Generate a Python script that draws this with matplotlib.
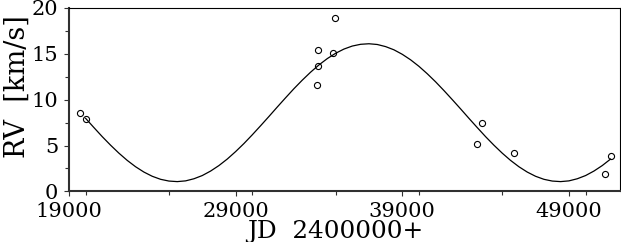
import matplotlib.pyplot as plt
from matplotlib.ticker import MultipleLocator

# observed radial velocities
jd_obs = [19660, 20040, 33900, 33935, 33955, 34815, 34935, 43485, 43785, 45690, 51150, 51495]
rv_obs = [8.59, 7.87, 11.65, 13.69, 15.46, 15.07, 18.89, 5.18, 7.47, 4.17, 1.87, 3.87]

# fitted orbit curve, every 500 days
jd_fit = list(range(20000, 52000, 500))
rv_fit = [7.97, 6.96, 5.97, 5.04, 4.17, 3.38, 2.69, 2.11, 1.65, 1.32,
          1.13, 1.07, 1.15, 1.38, 1.73, 2.22, 2.82, 3.53, 4.34, 5.22,
          6.17, 7.16, 8.17, 9.20, 10.21, 11.20, 12.13, 13.00, 13.79, 14.48,
          15.06, 15.52, 15.85, 16.04, 16.10, 16.02, 15.79, 15.44, 14.95, 14.35,
          13.64, 12.83, 11.95, 11.00, 10.01, 9.00, 7.97, 6.96, 5.97, 5.04,
          4.17, 3.38, 2.69, 2.11, 1.65, 1.32, 1.13, 1.07, 1.15, 1.38,
          1.73, 2.22, 2.82, 3.53]

x_ticks = [19000, 29000, 39000, 49000]
y_ticks = [0, 5, 10, 15, 20]

plt.rcParams['font.family'] = 'DejaVu Serif'

fig = plt.figure(figsize=(6.21, 2.42), dpi=100)
ax = fig.add_axes([0.111, 0.209, 0.887, 0.758])

ax.plot(jd_fit, rv_fit, '-', color='black', lw=0.9)
ax.plot(jd_obs, rv_obs, 'o', mfc='none', mec='black', ms=4.4, mew=0.8)

ax.set_xlim(19000, 52050)
ax.set_ylim(0, 20)
ax.set_xticks(x_ticks)
ax.set_yticks(y_ticks)
ax.xaxis.set_minor_locator(MultipleLocator(5000))
ax.yaxis.set_minor_locator(MultipleLocator(2.5))
ax.tick_params(which='both', direction='out', labelsize=15, color='#303030')
ax.tick_params(which='major', length=3.8, width=0.8, pad=4)
ax.tick_params(which='minor', length=3.0, width=0.8)

for side in ['bottom', 'left']:
    ax.spines[side].set_linewidth(1.5)
    ax.spines[side].set_color('#303030')
for side in ['top', 'right']:
    ax.spines[side].set_linewidth(0.8)

ax.set_xlabel("JD  2400000+", fontsize=17.8)
ax.xaxis.set_label_coords(0.483, -0.252)
ax.xaxis.label.set_va('baseline')

ax.set_ylabel("RV  [km/s]", fontsize=19.5)
ax.yaxis.set_label_coords(-0.118, 0.572)
ax.yaxis.label.set_va('top')

plt.savefig("out.png", dpi=100)
